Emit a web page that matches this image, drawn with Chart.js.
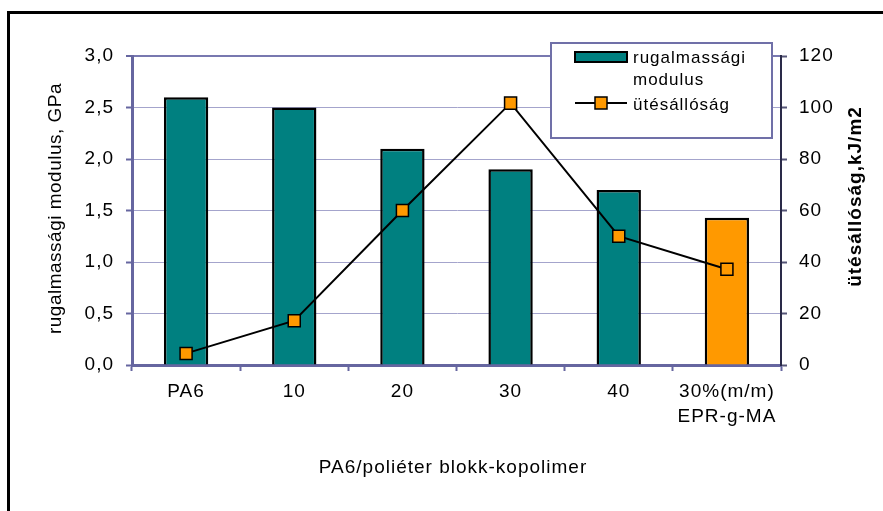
<!DOCTYPE html>
<html>
<head>
<meta charset="utf-8">
<script src="https://cdn.jsdelivr.net/npm/chart.js@4/dist/chart.umd.min.js"></script>
<style>
  html, body { margin: 0; padding: 0; background: #ffffff; }
  #chart { display: block; }
</style>
</head>
<body>
<canvas id="chart" width="883" height="511"></canvas>
<script>
// Categories (PA6 / polyether block copolymer content, plus the EPR-g-MA blend)
const categories = ['PA6', '10', '20', '30', '40', ['30%(m/m)', 'EPR-g-MA']];
// Elastic modulus, GPa (bars, left axis)
const modulus = [2.6, 2.5, 2.1, 1.9, 1.7, 1.43];
// Impact strength, kJ/m2 (line, right axis)
const impact = [4.5, 17.2, 60, 101.7, 50, 37.2];
// Bar fill per category
const barColors = ['#008080', '#008080', '#008080', '#008080', '#008080', '#FF9900'];

const seriesNames = ['rugalmassági', 'modulus', 'ütésállóság'];
const leftTitle = 'rugalmassági modulus, GPa';
const rightTitle = 'ütésállóság,kJ/m2';
const bottomTitle = 'PA6/poliéter blokk-kopolimer';

const FONT = '"Liberation Sans", Arial, Helvetica, sans-serif';
const AXIS_COLOR = '#6666a0';
const GRID_COLOR = '#a4a4cc';

Chart.defaults.font.family = FONT;
Chart.defaults.font.size = 19;
Chart.defaults.color = '#000000';

// Page background, frame lines and letter spacing of the text
const framePlugin = {
  id: 'frame',
  beforeDraw(chart) {
    const ctx = chart.ctx;
    ctx.save();
    ctx.fillStyle = '#ffffff';
    ctx.fillRect(0, 0, chart.width, chart.height);
    ctx.fillStyle = '#000000';
    ctx.fillRect(7, 11, 3, chart.height);
    ctx.fillRect(7, 11, chart.width, 3);
    ctx.restore();
    ctx.letterSpacing = '1px';
  }
};

// Axis titles and the boxed legend
const overlayPlugin = {
  id: 'overlay',
  afterDraw(chart) {
    const ctx = chart.ctx;
    ctx.save();
    ctx.fillStyle = '#000000';
    ctx.textBaseline = 'alphabetic';
    ctx.textAlign = 'center';

    // left axis title
    ctx.save();
    ctx.letterSpacing = '0.5px';
    ctx.font = '19px ' + FONT;
    ctx.translate(61, 208.5);
    ctx.rotate(-Math.PI / 2);
    ctx.fillText(leftTitle, 0, 0);
    ctx.restore();

    ctx.letterSpacing = '1px';

    // right axis title
    ctx.save();
    ctx.font = 'bold 19px ' + FONT;
    ctx.translate(861, 196.5);
    ctx.rotate(-Math.PI / 2);
    ctx.fillText(rightTitle, 0, 0);
    ctx.restore();

    // category axis title
    ctx.font = '19px ' + FONT;
    ctx.fillText(bottomTitle, 453, 473);

    // legend box
    ctx.fillStyle = '#ffffff';
    ctx.fillRect(551, 43, 221, 95);
    ctx.strokeStyle = '#7070a8';
    ctx.lineWidth = 2;
    ctx.strokeRect(551, 43, 221, 95);

    // bar swatch
    ctx.fillStyle = barColors[0];
    ctx.fillRect(575, 52, 52, 10);
    ctx.strokeStyle = '#000000';
    ctx.lineWidth = 2;
    ctx.strokeRect(575, 52, 52, 10);

    // line swatch with marker
    ctx.beginPath();
    ctx.moveTo(575, 103);
    ctx.lineTo(627, 103);
    ctx.lineWidth = 2;
    ctx.stroke();
    ctx.fillStyle = '#FF9900';
    ctx.fillRect(595, 97, 12, 12);
    ctx.lineWidth = 1.5;
    ctx.strokeRect(595, 97, 12, 12);

    // legend text
    ctx.fillStyle = '#000000';
    ctx.textAlign = 'left';
    ctx.font = '17px ' + FONT;
    ctx.fillText(seriesNames[0], 633, 63);
    ctx.fillText(seriesNames[1], 633, 85);
    ctx.fillText(seriesNames[2], 633, 110);
    ctx.restore();
  }
};

new Chart(document.getElementById('chart'), {
  type: 'bar',
  data: {
    labels: categories,
    datasets: [
      {
        type: 'line',
        label: seriesNames[2],
        data: impact,
        yAxisID: 'y1',
        order: 0,
        borderColor: '#000000',
        borderWidth: 2,
        tension: 0,
        fill: false,
        pointStyle: 'rect',
        pointRadius: 8.5,
        pointBackgroundColor: '#FF9900',
        pointBorderColor: '#000000',
        pointBorderWidth: 1.5
      },
      {
        type: 'bar',
        label: seriesNames[0] + ' ' + seriesNames[1],
        data: modulus,
        yAxisID: 'y',
        order: 1,
        backgroundColor: barColors,
        borderColor: '#000000',
        borderWidth: 2.5,
        barPercentage: 0.41,
        categoryPercentage: 1.0
      }
    ]
  },
  options: {
    responsive: false,
    animation: false,
    devicePixelRatio: 1,
    layout: { padding: { top: 56, left: 0, right: 0, bottom: 0 } },
    plugins: {
      legend: { display: false },
      tooltip: { enabled: false },
      title: { display: false }
    },
    scales: {
      x: {
        position: 'bottom',
        offset: true,
        grid: {
          offset: true,
          drawOnChartArea: false,
          drawTicks: true,
          tickLength: 6,
          tickColor: AXIS_COLOR,
          tickWidth: 2
        },
        border: { display: true, color: AXIS_COLOR, width: 3 },
        ticks: {
          padding: 8,
          maxRotation: 0,
          autoSkip: false,
          font: { size: 19, lineHeight: 1.32 }
        },
        afterFit(scale) { scale.height = 146; }
      },
      y: {
        position: 'left',
        min: 0,
        max: 3,
        grid: {
          color: (c) => (c.tick && c.tick.value === 3 ? '#7878b0' : GRID_COLOR),
          lineWidth: (c) => (c.tick && c.tick.value === 3 ? 2 : 1),
          drawTicks: true,
          tickLength: 6,
          tickColor: AXIS_COLOR,
          tickWidth: 2
        },
        border: { display: true, color: AXIS_COLOR, width: 3 },
        ticks: {
          stepSize: 0.5,
          padding: 12,
          callback: (v) => Number(v).toFixed(1).replace('.', ',')
        },
        afterFit(scale) { scale.width = 132; }
      },
      y1: {
        position: 'right',
        min: 0,
        max: 120,
        grid: {
          drawOnChartArea: false,
          drawTicks: true,
          tickLength: 6,
          tickColor: '#555577',
          tickWidth: 2
        },
        border: { display: true, color: '#2a2a48', width: 2 },
        ticks: {
          stepSize: 20,
          padding: 12,
          callback: (v) => String(v)
        },
        afterFit(scale) { scale.width = 102; }
      }
    }
  },
  plugins: [framePlugin, overlayPlugin]
});
</script>
</body>
</html>
